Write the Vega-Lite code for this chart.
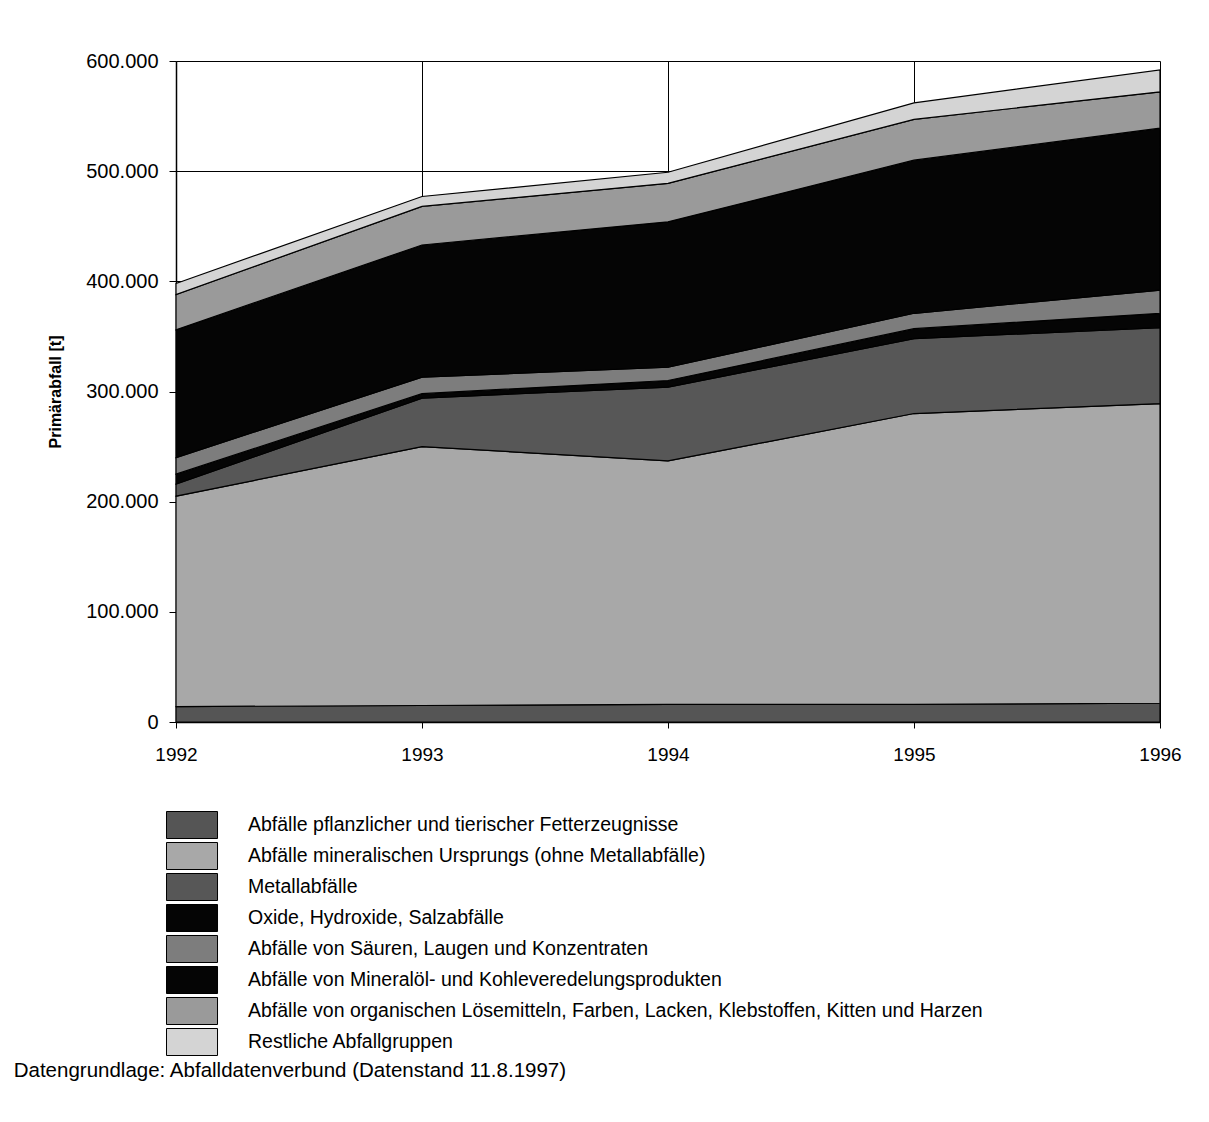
{
  "$schema": "https://vega.github.io/schema/vega-lite/v6.json",
  "autosize": {"type": "none"},
  "width": 984,
  "height": 661,
  "padding": {"left": 176, "top": 61, "right": 49, "bottom": 400},
  "background": "white",
  "config": {
    "font": "Liberation Sans",
    "locale": {"number": {"decimal": ",", "thousands": ".", "grouping": [3], "currency": ["", " €"]}},
    "view": {"stroke": null},
    "axis": {"labelFont": "Liberation Sans", "titleFont": "Liberation Sans"}
  },
  "title": {
    "text": "Datengrundlage: Abfalldatenverbund (Datenstand 11.8.1997)",
    "orient": "bottom",
    "anchor": "start",
    "fontSize": 20.5,
    "fontWeight": "normal",
    "color": "black",
    "font": "Liberation Sans",
    "dx": -34,
    "offset": 3
  },
  "data": {
    "values": [
      {"Jahr": 1992, "Nr": 1, "Gruppe": "Abfälle pflanzlicher und tierischer Fetterzeugnisse", "Menge": 14000},
      {"Jahr": 1992, "Nr": 2, "Gruppe": "Abfälle mineralischen Ursprungs (ohne Metallabfälle)", "Menge": 191000},
      {"Jahr": 1992, "Nr": 3, "Gruppe": "Metallabfälle", "Menge": 11000},
      {"Jahr": 1992, "Nr": 4, "Gruppe": "Oxide, Hydroxide, Salzabfälle", "Menge": 9000},
      {"Jahr": 1992, "Nr": 5, "Gruppe": "Abfälle von Säuren, Laugen und Konzentraten", "Menge": 15000},
      {"Jahr": 1992, "Nr": 6, "Gruppe": "Abfälle von Mineralöl- und Kohleveredelungsprodukten", "Menge": 116000},
      {"Jahr": 1992, "Nr": 7, "Gruppe": "Abfälle von organischen Lösemitteln, Farben, Lacken, Klebstoffen, Kitten und Harzen", "Menge": 32000},
      {"Jahr": 1992, "Nr": 8, "Gruppe": "Restliche Abfallgruppen", "Menge": 10000},
      {"Jahr": 1993, "Nr": 1, "Gruppe": "Abfälle pflanzlicher und tierischer Fetterzeugnisse", "Menge": 15000},
      {"Jahr": 1993, "Nr": 2, "Gruppe": "Abfälle mineralischen Ursprungs (ohne Metallabfälle)", "Menge": 235000},
      {"Jahr": 1993, "Nr": 3, "Gruppe": "Metallabfälle", "Menge": 44000},
      {"Jahr": 1993, "Nr": 4, "Gruppe": "Oxide, Hydroxide, Salzabfälle", "Menge": 4000},
      {"Jahr": 1993, "Nr": 5, "Gruppe": "Abfälle von Säuren, Laugen und Konzentraten", "Menge": 15000},
      {"Jahr": 1993, "Nr": 6, "Gruppe": "Abfälle von Mineralöl- und Kohleveredelungsprodukten", "Menge": 120000},
      {"Jahr": 1993, "Nr": 7, "Gruppe": "Abfälle von organischen Lösemitteln, Farben, Lacken, Klebstoffen, Kitten und Harzen", "Menge": 35000},
      {"Jahr": 1993, "Nr": 8, "Gruppe": "Restliche Abfallgruppen", "Menge": 9000},
      {"Jahr": 1994, "Nr": 1, "Gruppe": "Abfälle pflanzlicher und tierischer Fetterzeugnisse", "Menge": 16000},
      {"Jahr": 1994, "Nr": 2, "Gruppe": "Abfälle mineralischen Ursprungs (ohne Metallabfälle)", "Menge": 221000},
      {"Jahr": 1994, "Nr": 3, "Gruppe": "Metallabfälle", "Menge": 67000},
      {"Jahr": 1994, "Nr": 4, "Gruppe": "Oxide, Hydroxide, Salzabfälle", "Menge": 6000},
      {"Jahr": 1994, "Nr": 5, "Gruppe": "Abfälle von Säuren, Laugen und Konzentraten", "Menge": 12000},
      {"Jahr": 1994, "Nr": 6, "Gruppe": "Abfälle von Mineralöl- und Kohleveredelungsprodukten", "Menge": 132000},
      {"Jahr": 1994, "Nr": 7, "Gruppe": "Abfälle von organischen Lösemitteln, Farben, Lacken, Klebstoffen, Kitten und Harzen", "Menge": 35000},
      {"Jahr": 1994, "Nr": 8, "Gruppe": "Restliche Abfallgruppen", "Menge": 10000},
      {"Jahr": 1995, "Nr": 1, "Gruppe": "Abfälle pflanzlicher und tierischer Fetterzeugnisse", "Menge": 16000},
      {"Jahr": 1995, "Nr": 2, "Gruppe": "Abfälle mineralischen Ursprungs (ohne Metallabfälle)", "Menge": 264000},
      {"Jahr": 1995, "Nr": 3, "Gruppe": "Metallabfälle", "Menge": 68000},
      {"Jahr": 1995, "Nr": 4, "Gruppe": "Oxide, Hydroxide, Salzabfälle", "Menge": 9000},
      {"Jahr": 1995, "Nr": 5, "Gruppe": "Abfälle von Säuren, Laugen und Konzentraten", "Menge": 14000},
      {"Jahr": 1995, "Nr": 6, "Gruppe": "Abfälle von Mineralöl- und Kohleveredelungsprodukten", "Menge": 139000},
      {"Jahr": 1995, "Nr": 7, "Gruppe": "Abfälle von organischen Lösemitteln, Farben, Lacken, Klebstoffen, Kitten und Harzen", "Menge": 37000},
      {"Jahr": 1995, "Nr": 8, "Gruppe": "Restliche Abfallgruppen", "Menge": 15000},
      {"Jahr": 1996, "Nr": 1, "Gruppe": "Abfälle pflanzlicher und tierischer Fetterzeugnisse", "Menge": 17000},
      {"Jahr": 1996, "Nr": 2, "Gruppe": "Abfälle mineralischen Ursprungs (ohne Metallabfälle)", "Menge": 272000},
      {"Jahr": 1996, "Nr": 3, "Gruppe": "Metallabfälle", "Menge": 69000},
      {"Jahr": 1996, "Nr": 4, "Gruppe": "Oxide, Hydroxide, Salzabfälle", "Menge": 13000},
      {"Jahr": 1996, "Nr": 5, "Gruppe": "Abfälle von Säuren, Laugen und Konzentraten", "Menge": 21000},
      {"Jahr": 1996, "Nr": 6, "Gruppe": "Abfälle von Mineralöl- und Kohleveredelungsprodukten", "Menge": 147000},
      {"Jahr": 1996, "Nr": 7, "Gruppe": "Abfälle von organischen Lösemitteln, Farben, Lacken, Klebstoffen, Kitten und Harzen", "Menge": 33000},
      {"Jahr": 1996, "Nr": 8, "Gruppe": "Restliche Abfallgruppen", "Menge": 20000}
    ]
  },
  "mark": {"type": "area", "stroke": "black", "strokeWidth": 1.2, "opacity": 1, "fillOpacity": 1},
  "encoding": {
    "x": {
      "field": "Jahr",
      "type": "quantitative",
      "scale": {"domain": [1992, 1996], "nice": false, "zero": false},
      "axis": {
        "title": null,
        "values": [1992, 1993, 1994, 1995, 1996],
        "format": "d",
        "labelFontSize": 19,
        "labelColor": "black",
        "labelFlush": false,
        "labelPadding": 17,
        "tickSize": 6,
        "tickColor": "black",
        "domainColor": "black",
        "domainWidth": 1.5,
        "grid": true,
        "gridColor": "black",
        "gridWidth": 1,
        "gridOpacity": 1
      }
    },
    "y": {
      "field": "Menge",
      "type": "quantitative",
      "stack": "zero",
      "scale": {"domain": [0, 600000], "nice": false},
      "axis": {
        "title": "Primärabfall [t]",
        "titleFontSize": 16,
        "titleFontWeight": "bold",
        "titleColor": "black",
        "titlePadding": 22,
        "values": [0, 100000, 200000, 300000, 400000, 500000, 600000],
        "format": ",d",
        "labelFontSize": 20,
        "labelColor": "black",
        "labelPadding": 11,
        "tickSize": 7,
        "tickColor": "black",
        "domainColor": "black",
        "domainWidth": 1.5,
        "grid": true,
        "gridColor": "black",
        "gridWidth": 1,
        "gridOpacity": 1
      }
    },
    "order": {"field": "Nr", "type": "quantitative", "sort": "ascending"},
    "color": {
      "field": "Gruppe",
      "type": "nominal",
      "scale": {
        "domain": [
          "Abfälle pflanzlicher und tierischer Fetterzeugnisse",
          "Abfälle mineralischen Ursprungs (ohne Metallabfälle)",
          "Metallabfälle",
          "Oxide, Hydroxide, Salzabfälle",
          "Abfälle von Säuren, Laugen und Konzentraten",
          "Abfälle von Mineralöl- und Kohleveredelungsprodukten",
          "Abfälle von organischen Lösemitteln, Farben, Lacken, Klebstoffen, Kitten und Harzen",
          "Restliche Abfallgruppen"
        ],
        "range": ["#555555", "#a8a8a8", "#575757", "#050505", "#7d7d7d", "#050505", "#9a9a9a", "#d4d4d4"]
      },
      "legend": {
        "title": null,
        "orient": "none",
        "legendX": -10,
        "legendY": 750,
        "direction": "vertical",
        "padding": 0,
        "symbolType": "M-1,-1H2.78V1H-1Z",
        "symbolSize": 729,
        "symbolStrokeColor": "black",
        "symbolStrokeWidth": 1,
        "symbolOpacity": 1,
        "labelOffset": 54,
        "labelFontSize": 19.5,
        "labelColor": "black",
        "labelLimit": 1200,
        "rowPadding": -1
      }
    }
  }
}
